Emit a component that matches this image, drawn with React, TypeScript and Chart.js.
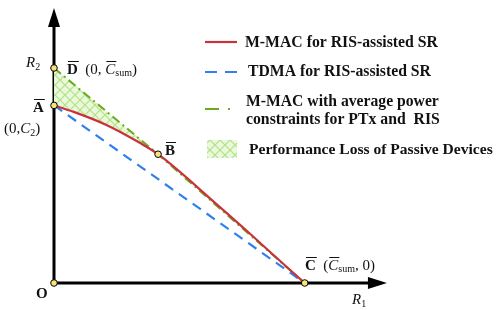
import React, { useEffect, useRef } from "react";
import { Chart, registerables } from "chart.js";
Chart.register(...registerables);

// Achievable-rate region (normalised: C_sum = 1)
const redX = [0, 0.076, 0.209, 0.342, 0.415, 0.648, 0.781, 0.913, 1];
const redY = [0.826, 0.797, 0.735, 0.652, 0.599, 0.367, 0.23, 0.0905, 0];
const greenX = [0, 0.415, 1];
const greenY = [1, 0.599, 0];
const blueX = [0, 1];
const blueY = [0.826, 0];
const markerX = [0, 0, 0, 0.415, 1];
const markerY = [0, 0.826, 1, 0.599, 0];
const legendLabels = [
  "M-MAC for RIS-assisted SR",
  "TDMA for RIS-assisted SR",
  "M-MAC with average power",
  "constraints for PTx and  RIS",
  "Performance Loss of Passive Devices",
];

const RED = "#c8323c";
const BLUE = "#2f80ef";
const GREEN = "#6aab1e";
const TXT = "#111";
const SERIF = '"Liberation Serif", "Times New Roman", serif';

function makePattern(): CanvasPattern | string {
  const c = document.createElement("canvas");
  c.width = 10;
  c.height = 10;
  const g = c.getContext("2d");
  if (!g) return "#dff3c8";
  g.fillStyle = "#eaf8dc";
  g.fillRect(0, 0, 10, 10);
  g.strokeStyle = "#b2e284";
  g.lineWidth = 1.2;
  g.beginPath();
  g.moveTo(0, 0);
  g.lineTo(10, 10);
  g.moveTo(10, 0);
  g.lineTo(0, 10);
  g.stroke();
  const p = g.createPattern(c, "repeat");
  return p || "#dff3c8";
}

type Seg = { t: string; f: string; dy?: number; over?: boolean };

function drawRich(ctx: CanvasRenderingContext2D, x: number, y: number, segs: Seg[]) {
  let cx = x;
  ctx.textBaseline = "alphabetic";
  ctx.textAlign = "left";
  for (const s of segs) {
    ctx.font = s.f;
    const w = ctx.measureText(s.t).width;
    ctx.fillStyle = TXT;
    ctx.fillText(s.t, cx, y + (s.dy || 0));
    if (s.over) {
      ctx.strokeStyle = TXT;
      ctx.lineWidth = 1;
      ctx.beginPath();
      ctx.moveTo(cx + 1, y - 12.5);
      ctx.lineTo(cx + w + 1, y - 12.5);
      ctx.stroke();
    }
    cx += w;
  }
}

function fitText(ctx: CanvasRenderingContext2D, t: string, x: number, yc: number, width: number) {
  ctx.font = `bold 100px ${SERIF}`;
  const w = ctx.measureText(t).width;
  const size = (100 * width) / w;
  ctx.font = `bold ${size}px ${SERIF}`;
  ctx.fillStyle = TXT;
  ctx.textAlign = "left";
  ctx.textBaseline = "middle";
  ctx.fillText(t, x, yc);
}

export default function App() {
  const ref = useRef<HTMLCanvasElement>(null);
  useEffect(() => {
    if (!ref.current) return;
    const pattern = makePattern();
    const pts = (xs: number[], ys: number[]) => xs.map((x, i) => ({ x, y: ys[i] }));

    const decor = {
      id: "decor",
      beforeDatasetsDraw(chart: any) {
        const ctx = chart.ctx as CanvasRenderingContext2D;
        const sx = chart.scales.x;
        const sy = chart.scales.y;
        const x0 = sx.getPixelForValue(0);
        const y0 = sy.getPixelForValue(0);
        const xTip = sx.getPixelForValue(1.328);
        const yTip = sy.getPixelForValue(1.279);
        ctx.save();
        ctx.strokeStyle = "#000";
        ctx.lineWidth = 3;
        ctx.beginPath();
        ctx.moveTo(x0, y0);
        ctx.lineTo(x0, yTip + 15);
        ctx.moveTo(x0 - 1.5, y0);
        ctx.lineTo(xTip - 15, y0);
        ctx.stroke();
        ctx.fillStyle = "#000";
        ctx.beginPath();
        ctx.moveTo(x0, yTip);
        ctx.lineTo(x0 - 6, yTip + 19);
        ctx.lineTo(x0 + 6, yTip + 19);
        ctx.closePath();
        ctx.fill();
        ctx.beginPath();
        ctx.moveTo(xTip, y0);
        ctx.lineTo(xTip - 19, y0 - 6);
        ctx.lineTo(xTip - 19, y0 + 6);
        ctx.closePath();
        ctx.fill();
        ctx.restore();
      },
      afterDraw(chart: any) {
        const ctx = chart.ctx as CanvasRenderingContext2D;
        ctx.save();
        const N = `15px ${SERIF}`;
        const B = `bold 15px ${SERIF}`;
        const I = `italic 15px ${SERIF}`;
        const S = `10px ${SERIF}`;
        // axis labels
        drawRich(ctx, 26, 67, [{ t: "R", f: I }, { t: "2", f: S, dy: 3 }]);
        drawRich(ctx, 352, 304, [{ t: "R", f: I }, { t: "1", f: S, dy: 3 }]);
        drawRich(ctx, 36, 298, [{ t: "O", f: B }]);
        // point labels
        drawRich(ctx, 67, 74, [
          { t: "D", f: B, over: true },
          { t: "  (0, ", f: N },
          { t: "C", f: I, over: true },
          { t: "sum", f: S, dy: 2 },
          { t: ")", f: N },
        ]);
        drawRich(ctx, 33, 112, [{ t: "A", f: B, over: true }]);
        drawRich(ctx, 4, 133, [
          { t: "(0,", f: N },
          { t: "C", f: I },
          { t: "2", f: S, dy: 3 },
          { t: ")", f: N },
        ]);
        drawRich(ctx, 165, 155, [{ t: "B", f: B, over: true }]);
        drawRich(ctx, 305, 270, [
          { t: "C", f: B, over: true },
          { t: "  (", f: N },
          { t: "C", f: I, over: true },
          { t: "sum", f: S, dy: 2 },
          { t: ", 0)", f: N },
        ]);
        // legend
        ctx.lineWidth = 2.2;
        ctx.strokeStyle = RED;
        ctx.setLineDash([]);
        ctx.beginPath();
        ctx.moveTo(205, 42);
        ctx.lineTo(237, 42);
        ctx.stroke();
        ctx.strokeStyle = BLUE;
        ctx.setLineDash([12, 8]);
        ctx.beginPath();
        ctx.moveTo(205, 72);
        ctx.lineTo(238, 72);
        ctx.stroke();
        ctx.strokeStyle = GREEN;
        ctx.setLineDash([14, 9, 2, 9]);
        ctx.beginPath();
        ctx.moveTo(205, 109);
        ctx.lineTo(232, 109);
        ctx.stroke();
        ctx.setLineDash([]);
        ctx.fillStyle = pattern as any;
        ctx.fillRect(207, 140, 30, 18);
        fitText(ctx, legendLabels[0], 245, 43, 193);
        fitText(ctx, legendLabels[1], 248, 72, 183);
        fitText(ctx, legendLabels[2], 246, 102, 193);
        fitText(ctx, legendLabels[3], 246, 120, 194);
        fitText(ctx, legendLabels[4], 249, 150, 244);
        ctx.restore();
      },
    };

    const chart = new Chart(ref.current, {
      type: "scatter",
      data: {
        datasets: [
          {
            data: pts(greenX, greenY),
            showLine: true,
            borderColor: GREEN,
            borderWidth: 2,
            borderDash: [9, 4, 2, 4],
            pointRadius: 0,
            fill: 1,
            backgroundColor: pattern as any,
            clip: false,
            order: 2,
          } as any,
          {
            data: pts(redX, redY),
            showLine: true,
            borderColor: RED,
            borderWidth: 2.2,
            cubicInterpolationMode: "monotone",
            pointRadius: 0,
            fill: false,
            clip: false,
            order: 1,
          } as any,
          {
            data: pts(blueX, blueY),
            showLine: true,
            borderColor: BLUE,
            borderWidth: 2.2,
            borderDash: [10, 7],
            pointRadius: 0,
            fill: false,
            clip: false,
            order: 3,
          } as any,
          {
            data: pts(markerX, markerY),
            showLine: false,
            pointRadius: 3.3,
            pointBackgroundColor: "#f8e27c",
            pointBorderColor: "#000",
            pointBorderWidth: 1,
            clip: false,
            order: 0,
          } as any,
        ],
      },
      options: {
        animation: false,
        responsive: false,
        events: [],
        layout: { padding: { left: 54, right: 92, top: 8, bottom: 27 } },
        plugins: { legend: { display: false }, tooltip: { enabled: false } },
        scales: {
          x: { type: "linear", min: 0, max: 1.404, display: false },
          y: { type: "linear", min: 0, max: 1.279, display: false },
        },
      },
      plugins: [decor],
    });
    return () => chart.destroy();
  }, []);

  return (
    <div style={{ position: "absolute", left: 0, top: 0, width: 498, height: 310, background: "#fff" }}>
      <canvas ref={ref} width={498} height={310} style={{ width: 498, height: 310, display: "block" }} />
    </div>
  );
}
